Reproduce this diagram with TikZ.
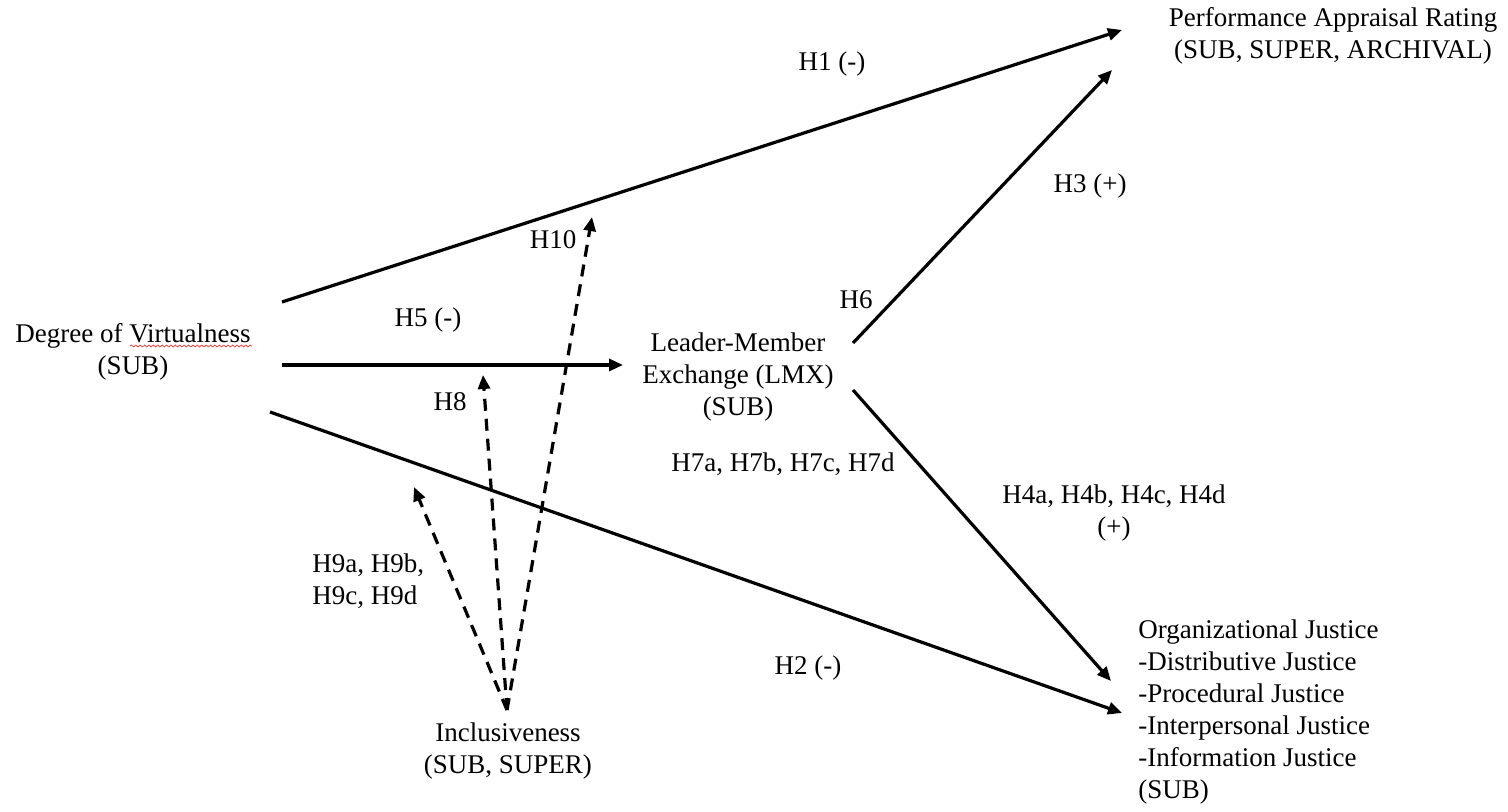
\documentclass[tikz,border=0pt]{standalone}
\usepackage{fontspec}
\setmainfont{Liberation Serif}
\usetikzlibrary{arrows.meta,decorations.pathmorphing}
\begin{document}
\begin{tikzpicture}[x=0.5pt,y=-0.5pt,
  lbl/.style={inner sep=0pt,font=\fontsize{13.5}{16}\selectfont},
  box/.style={lbl,align=center},
  path/.style={line width=1.6pt,-{Triangle[length=7pt,width=6pt]}},
  mod/.style={path,dashed,dash pattern=on 6pt off 4pt}]
\useasboundingbox (0,0) rectangle (1508,812);

% constructs
\node[box] (dov) at (133,352) {Degree of Virtualness\\(SUB)};
\node[box] (par) at (1333,36) {Performance Appraisal Rating\\(SUB, SUPER, ARCHIVAL)};
\node[box] (lmx) at (738,377) {Leader-Member\\Exchange (LMX)\\(SUB)};
\node[lbl,align=left,anchor=west] (oj) at (1138,712) {Organizational Justice\\-Distributive Justice\\-Procedural Justice\\-Interpersonal Justice\\-Information Justice\\(SUB)};
\node[box] (inc) at (508,751) {Inclusiveness\\(SUB, SUPER)};

% spell-check squiggle under "Virtualness"
\draw[red!80,line width=0.35pt,decorate,decoration={snake,amplitude=0.5pt,segment length=2.2pt}]
  (130,346) -- (252,346);

% path end points
\coordinate (dovA) at (282,302);
\coordinate (dovB) at (282,365);
\coordinate (dovC) at (270,412);
\coordinate (parA) at (1122,30);
\coordinate (parB) at (1112,70);
\coordinate (lmxIn) at (623,365);
\coordinate (lmxUp) at (853,343);
\coordinate (lmxDn) at (853,390);
\coordinate (ojA) at (1111,681);
\coordinate (ojB) at (1122,713);
\coordinate (incTop) at (507,710);
\coordinate (m10) at (592,217);
\coordinate (m8) at (483,375);
\coordinate (m9) at (414,487);

% direct and mediated paths
\draw[path] (dovA) -- (parA);
\draw[path] (dovB) -- (lmxIn);
\draw[path] (dovC) -- (ojB);
\draw[path] (lmxUp) -- (parB);
\draw[path] (lmxDn) -- (ojA);

% moderation by inclusiveness
\draw[mod] (incTop) -- (m10);
\draw[mod] (incTop) -- (m8);
\draw[mod] (incTop) -- (m9);

% hypothesis labels
\node[lbl] (h1) at (832,64) {H1 (-)};
\node[lbl] (h3) at (1090,186) {H3 (+)};
\node[lbl] (h10) at (553,240) {H10};
\node[lbl] (h6) at (856,300) {H6};
\node[lbl] (h5) at (428,320) {H5 (-)};
\node[lbl] (h8) at (450,402) {H8};
\node[lbl] (h7) at (783,464) {H7a, H7b, H7c, H7d};
\node[box] (h4) at (1114,513) {H4a, H4b, H4c, H4d\\(+)};
\node[lbl,align=left,anchor=west] (h9) at (312,581) {H9a, H9b,\\H9c, H9d};
\node[lbl] (h2) at (808,668) {H2 (-)};
\end{tikzpicture}
\end{document}
